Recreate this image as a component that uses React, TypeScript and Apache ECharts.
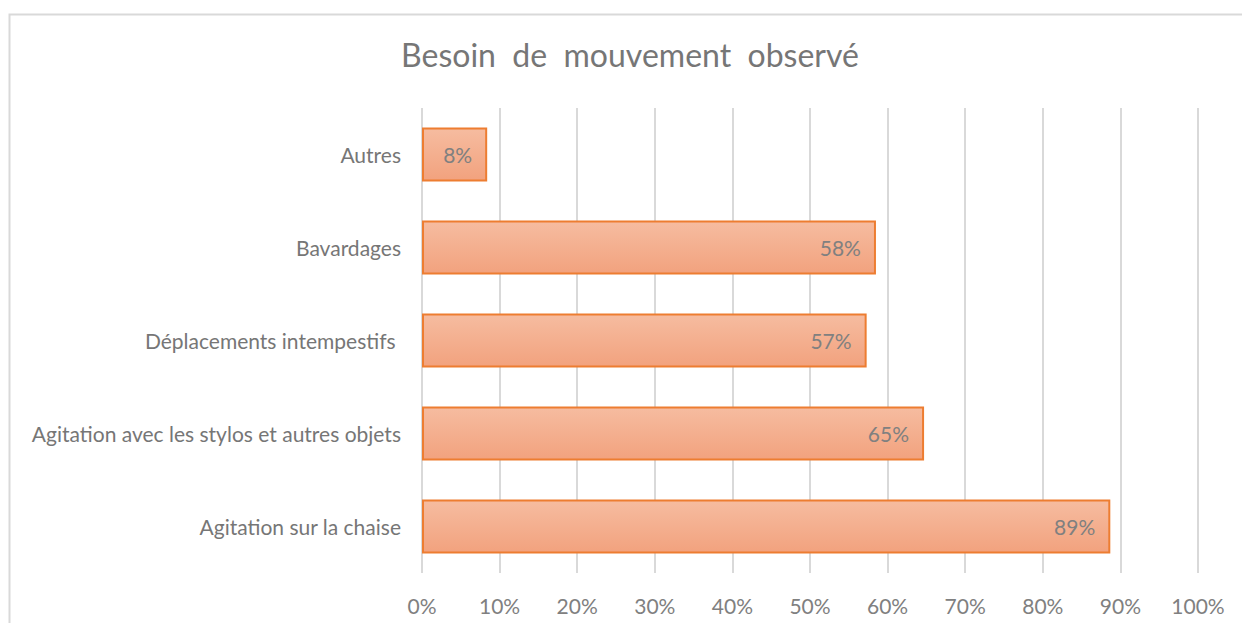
import React, { useEffect, useRef } from "react";
import * as echarts from "echarts";

const categories = [
  "Agitation sur la chaise",
  "Agitation avec les stylos et autres objets",
  "Déplacements intempestifs ",
  "Bavardages",
  "Autres",
];
const values = [88.7, 64.7, 57.3, 58.5, 8.4];
const labels = ["89%", "65%", "57%", "58%", "8%"];
const titleText = "Besoin  de  mouvement  observé";

export default function App() {
  const ref = useRef<HTMLDivElement>(null);
  useEffect(() => {
    const chart = echarts.init(ref.current!, null, { renderer: "svg" });
    const font = "Lato, 'Open Sans', sans-serif";
    chart.setOption({
      animation: false,
      backgroundColor: "#ffffff",
      title: {
        text: titleText,
        left: 625,
        textAlign: "center",
        top: 33,
        textStyle: { fontFamily: font, fontSize: 32, fontWeight: "normal", color: "#767676" },
      },
      graphic: [
        {
          type: "rect",
          shape: { x: 9.5, y: 14.5, width: 1400, height: 800 },
          style: { fill: "none", stroke: "#d9d9d9", lineWidth: 2 },
          silent: true,
        },
      ],
      grid: { left: 422, right: 44, top: 108, bottom: 50 },
      xAxis: {
        type: "value",
        min: 0,
        max: 100,
        interval: 10,
        axisLine: { show: false },
        axisTick: { show: false },
        splitLine: { lineStyle: { color: "#d9d9d9", width: 2 } },
        axisLabel: {
          formatter: "{value}%",
          fontFamily: font,
          fontSize: 21,
          color: "#808080",
          margin: 22,
        },
      },
      yAxis: {
        type: "category",
        data: categories,
        axisLine: { show: false },
        axisTick: { show: false },
        axisLabel: { fontFamily: font, fontSize: 21, color: "#767676", margin: 21 },
      },
      series: [
        {
          type: "bar",
          data: values,
          barCategoryGap: "42%",
          itemStyle: {
            color: new echarts.graphic.LinearGradient(0, 0, 0, 1, [
              { offset: 0, color: "#f6bca0" },
              { offset: 1, color: "#f2a27e" },
            ]),
            borderColor: "#ed7d31",
            borderWidth: 2,
          },
          label: {
            show: true,
            position: "insideRight",
            distance: 15,
            formatter: (p: any) => labels[p.dataIndex],
            fontFamily: font,
            fontSize: 21,
            color: "#808080",
          },
        },
      ],
    });
    return () => chart.dispose();
  }, []);
  return (
    <div
      ref={ref}
      style={{ position: "fixed", left: 0, top: 0, width: 1242, height: 623 }}
    />
  );
}
